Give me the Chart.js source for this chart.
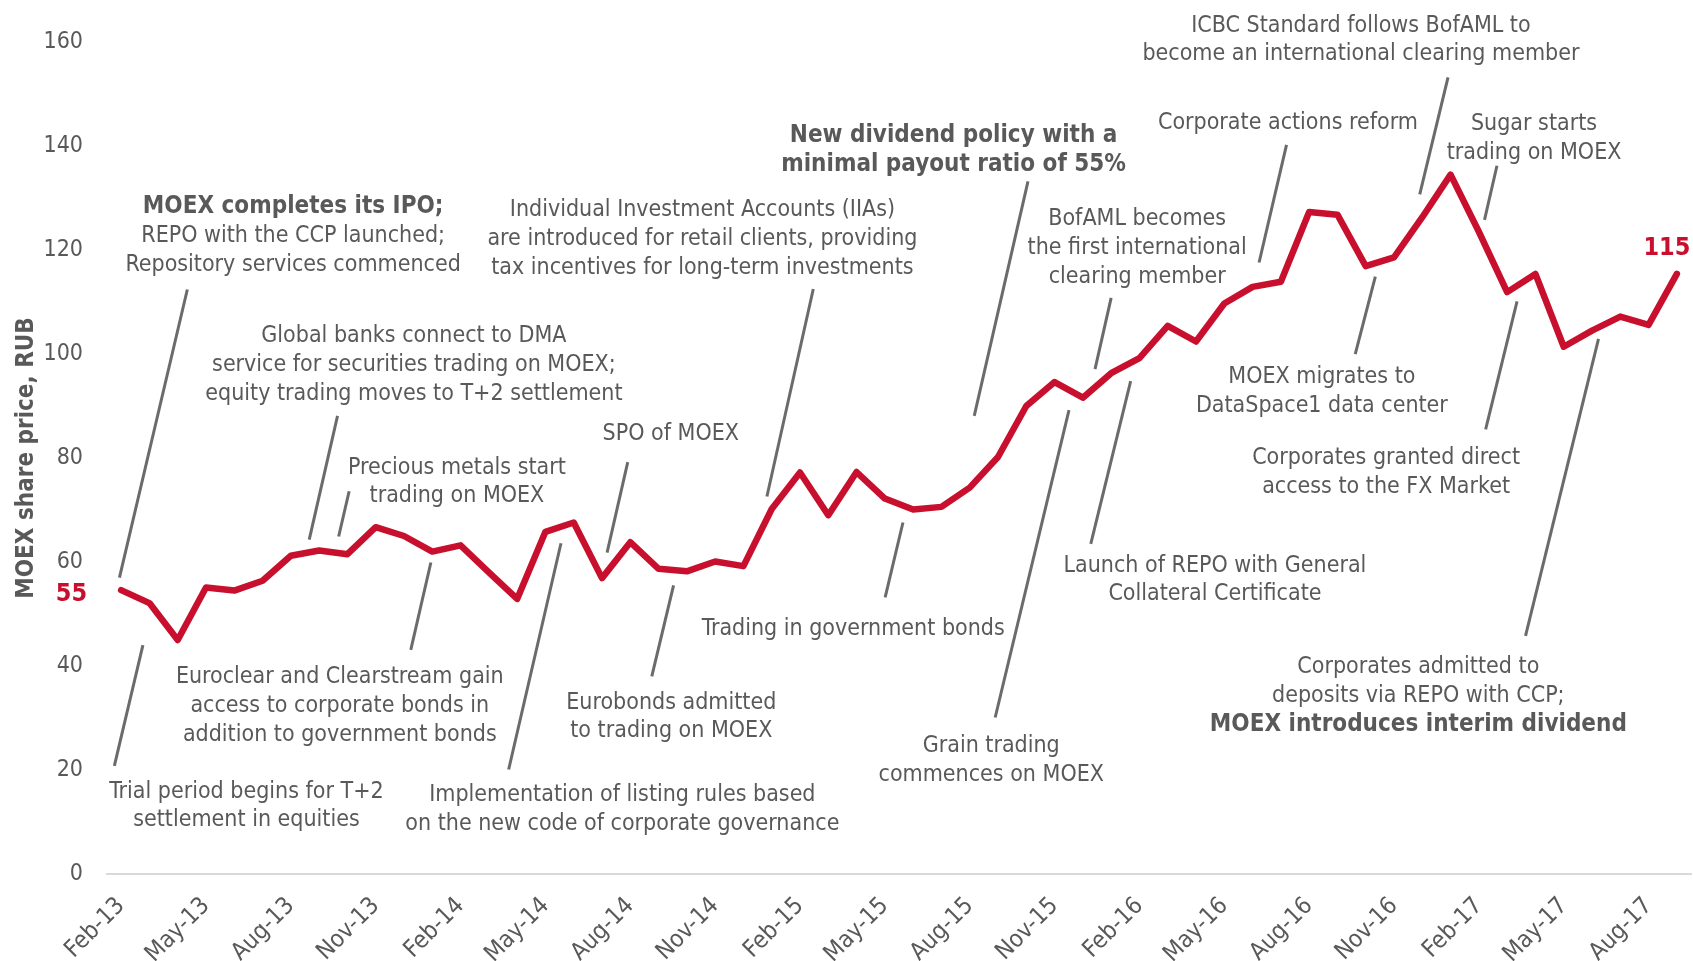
<!DOCTYPE html>
<html lang="en">
<head>
    <meta charset="UTF-8">
    <title>MOEX share price</title>
    <script src="https://cdn.jsdelivr.net/npm/chart.js"></script>
    <style>
        html, body { margin: 0; padding: 0; background: #fff; }
        #wrap { width: 1693px; height: 961px; }
    </style>
</head>
<body>
    <div id="wrap"><canvas id="moexChart"></canvas></div>

    <script>
        // Monthly closing prices, Feb-13 .. Sep-17
        const months = [
            'Feb-13', 'Mar-13', 'Apr-13', 'May-13', 'Jun-13', 'Jul-13', 'Aug-13', 'Sep-13', 'Oct-13', 'Nov-13', 'Dec-13',
            'Jan-14', 'Feb-14', 'Mar-14', 'Apr-14', 'May-14', 'Jun-14', 'Jul-14', 'Aug-14', 'Sep-14', 'Oct-14', 'Nov-14', 'Dec-14',
            'Jan-15', 'Feb-15', 'Mar-15', 'Apr-15', 'May-15', 'Jun-15', 'Jul-15', 'Aug-15', 'Sep-15', 'Oct-15', 'Nov-15', 'Dec-15',
            'Jan-16', 'Feb-16', 'Mar-16', 'Apr-16', 'May-16', 'Jun-16', 'Jul-16', 'Aug-16', 'Sep-16', 'Oct-16', 'Nov-16', 'Dec-16',
            'Jan-17', 'Feb-17', 'Mar-17', 'Apr-17', 'May-17', 'Jun-17', 'Jul-17', 'Aug-17', 'Sep-17'
        ];
        const prices = [
            54.6, 52.1, 45.0, 55.1, 54.5, 56.4, 61.2, 62.2, 61.5, 66.7,
            65.0, 62.0, 63.2, 58.0, 52.9, 65.8, 67.6, 56.9, 63.8, 58.7,
            58.2, 60.1, 59.2, 70.2, 77.2, 69.0, 77.3, 72.2, 70.1, 70.6,
            74.3, 80.2, 90.0, 94.6, 91.6, 96.3, 99.2, 105.4, 102.4, 109.7,
            112.9, 113.9, 127.3, 126.8, 116.9, 118.6, 126.3, 134.5, 123.5, 111.9,
            115.4, 101.4, 104.5, 107.2, 105.6, 115.4
        ];
        const yMin = 0, yMax = 160, yStep = 20;
        const labelEvery = 3;

        const FONT = '"DejaVu Sans Condensed", "Liberation Sans", sans-serif';
        const RED = '#c8102e';
        const GREY = '#595959';

        // Event notes: text anchor (x = month index, y = price), leader from/to in the same units.
        // b: true marks a bold line
        const notes = [
            { x: 6.08, y: 128.7, lines: [{ t: 'MOEX completes its IPO;', b: true }, { t: 'REPO with the CCP launched;' }, { t: 'Repository services commenced' }], from: [2.34, 112.4], to: [-0.06, 57.0] },
            { x: 20.55, y: 128.1, lines: [{ t: 'Individual Investment Accounts (IIAs)' }, { t: 'are introduced for retail clients, providing' }, { t: 'tax incentives for long-term investments' }], from: [24.47, 112.5], to: [22.83, 72.6] },
            { x: 10.35, y: 103.9, lines: [{ t: 'Global banks connect to DMA' }, { t: 'service for securities trading on MOEX;' }, { t: 'equity trading moves to T+2 settlement' }], from: [7.65, 88.1], to: [6.65, 64.3] },
            { x: 11.87, y: 78.6, lines: [{ t: 'Precious metals start' }, { t: 'trading on MOEX' }], from: [8.06, 73.6], to: [7.69, 64.9] },
            { x: 19.43, y: 85.0, lines: [{ t: 'SPO of MOEX' }], from: [17.91, 79.2], to: [17.18, 61.8] },
            { x: 29.43, y: 142.4, lines: [{ t: 'New dividend policy with a', b: true }, { t: 'minimal payout ratio of 55%', b: true }], from: [32.06, 133.2], to: [30.16, 88.1] },
            { x: 35.92, y: 126.4, lines: [{ t: 'BofAML becomes' }, { t: 'the first international' }, { t: 'clearing member' }], from: [35.0, 110.8], to: [34.43, 97.1] },
            { x: 41.25, y: 144.9, lines: [{ t: 'Corporate actions reform' }], from: [41.2, 140.2], to: [40.23, 117.6] },
            { x: 43.83, y: 163.6, lines: [{ t: 'ICBC Standard follows BofAML to' }, { t: 'become an international clearing member' }], from: [46.91, 153.2], to: [45.91, 130.7] },
            { x: 49.95, y: 144.7, lines: [{ t: 'Sugar starts' }, { t: 'trading on MOEX' }], from: [48.64, 136.2], to: [48.2, 125.8] },
            { x: 42.45, y: 96.0, lines: [{ t: 'MOEX migrates to' }, { t: 'DataSpace1 data center' }], from: [44.34, 114.9], to: [43.63, 99.96] },
            { x: 44.72, y: 80.4, lines: [{ t: 'Corporates granted direct' }, { t: 'access to the FX Market' }], from: [49.35, 110.1], to: [48.24, 85.5] },
            { x: 38.67, y: 59.75, lines: [{ t: 'Launch of REPO with General' }, { t: 'Collateral Certificate' }], from: [35.69, 94.8], to: [34.28, 63.5] },
            { x: 25.88, y: 47.6, lines: [{ t: 'Trading in government bonds' }], from: [27.64, 67.6], to: [27.01, 53.2] },
            { x: 30.76, y: 25.1, lines: [{ t: 'Grain trading' }, { t: 'commences on MOEX' }], from: [33.51, 89.2], to: [30.9, 30.1] },
            { x: 45.86, y: 40.3, lines: [{ t: 'Corporates admitted to' }, { t: 'deposits via REPO with CCP;' }, { t: 'MOEX introduces interim dividend', b: true }], from: [52.23, 102.9], to: [49.65, 45.8] },
            { x: 19.45, y: 33.4, lines: [{ t: 'Eurobonds admitted' }, { t: 'to trading on MOEX' }], from: [19.53, 55.5], to: [18.76, 38.0] },
            { x: 17.72, y: 15.6, lines: [{ t: 'Implementation of listing rules based' }, { t: 'on the new code of corporate governance' }], from: [15.55, 63.6], to: [13.7, 20.1] },
            { x: 7.73, y: 38.3, lines: [{ t: 'Euroclear and Clearstream gain' }, { t: 'access to corporate bonds in' }, { t: 'addition to government bonds' }], from: [10.95, 59.9], to: [10.24, 43.1] },
            { x: 4.43, y: 16.3, lines: [{ t: 'Trial period begins for T+2' }, { t: 'settlement in equities' }], from: [0.77, 44.0], to: [-0.24, 20.8] }
        ];

        const notesPlugin = {
            id: 'notes',
            beforeDatasetsDraw(chart) {
                const { ctx, scales: { x, y } } = chart;
                ctx.save();
                ctx.strokeStyle = '#6b6b6b';
                ctx.lineWidth = 3;
                ctx.lineCap = 'butt';
                notes.forEach(n => {
                    ctx.beginPath();
                    ctx.moveTo(x.getPixelForValue(n.from[0]), y.getPixelForValue(n.from[1]));
                    ctx.lineTo(x.getPixelForValue(n.to[0]), y.getPixelForValue(n.to[1]));
                    ctx.stroke();
                });
                ctx.restore();
            },
            afterDatasetsDraw(chart) {
                const { ctx, scales: { x, y } } = chart;
                ctx.save();
                ctx.textAlign = 'center';
                ctx.textBaseline = 'middle';
                ctx.fillStyle = GREY;
                notes.forEach(n => {
                    const cx = x.getPixelForValue(n.x);
                    const cy = y.getPixelForValue(n.y) + 2.5;
                    n.lines.forEach((l, i) => {
                        ctx.font = l.b ? 'bold 24px ' + FONT : '23px ' + FONT;
                        ctx.fillText(l.t, cx, cy + i * 28.7);
                    });
                });

                // first and last price labels
                const meta = chart.getDatasetMeta(0);
                const first = meta.data[0], last = meta.data[meta.data.length - 1];
                ctx.fillStyle = RED;
                ctx.font = 'bold 25px ' + FONT;
                ctx.textAlign = 'right';
                ctx.fillText(Math.round(prices[0]), first.x - 34, first.y + 4);
                ctx.textAlign = 'center';
                ctx.fillText(Math.round(prices[prices.length - 1]), last.x - 10, last.y - 25);
                ctx.restore();
            }
        };

        new Chart(document.getElementById('moexChart'), {
            type: 'line',
            data: {
                labels: months,
                datasets: [{
                    data: prices,
                    borderColor: RED,
                    borderWidth: 6.5,
                    pointRadius: 0,
                    tension: 0,
                    borderJoinStyle: 'round',
                    borderCapStyle: 'round'
                }]
            },
            options: {
                responsive: true,
                maintainAspectRatio: false,
                animation: false,
                layout: { padding: { top: 42, right: 2, left: 0, bottom: 0 } },
                plugins: { legend: { display: false }, tooltip: { enabled: false } },
                scales: {
                    x: {
                        offset: true,
                        grid: { display: false },
                        border: { display: true, color: '#d9d9d9', width: 2 },
                        ticks: {
                            autoSkip: false,
                            maxRotation: 45,
                            minRotation: 45,
                            padding: 10,
                            color: GREY,
                            font: { family: FONT, size: 24 },
                            callback: (v, i) => (i % labelEvery === 0 ? months[i] : null)
                        },
                        afterFit: s => { s.height = 87; }
                    },
                    y: {
                        min: yMin,
                        max: yMax,
                        grid: { display: false, drawTicks: false },
                        border: { display: false },
                        ticks: { stepSize: yStep, padding: 24, color: GREY, font: { family: FONT, size: 23 } },
                        title: {
                            display: true,
                            text: 'MOEX share price, RUB',
                            color: GREY,
                            font: { family: FONT, size: 24, weight: 'bold' },
                            padding: { top: 12, bottom: 0 }
                        },
                        afterFit: s => { s.width = 107; }
                    }
                }
            },
            plugins: [notesPlugin]
        });
    </script>
</body>
</html>
